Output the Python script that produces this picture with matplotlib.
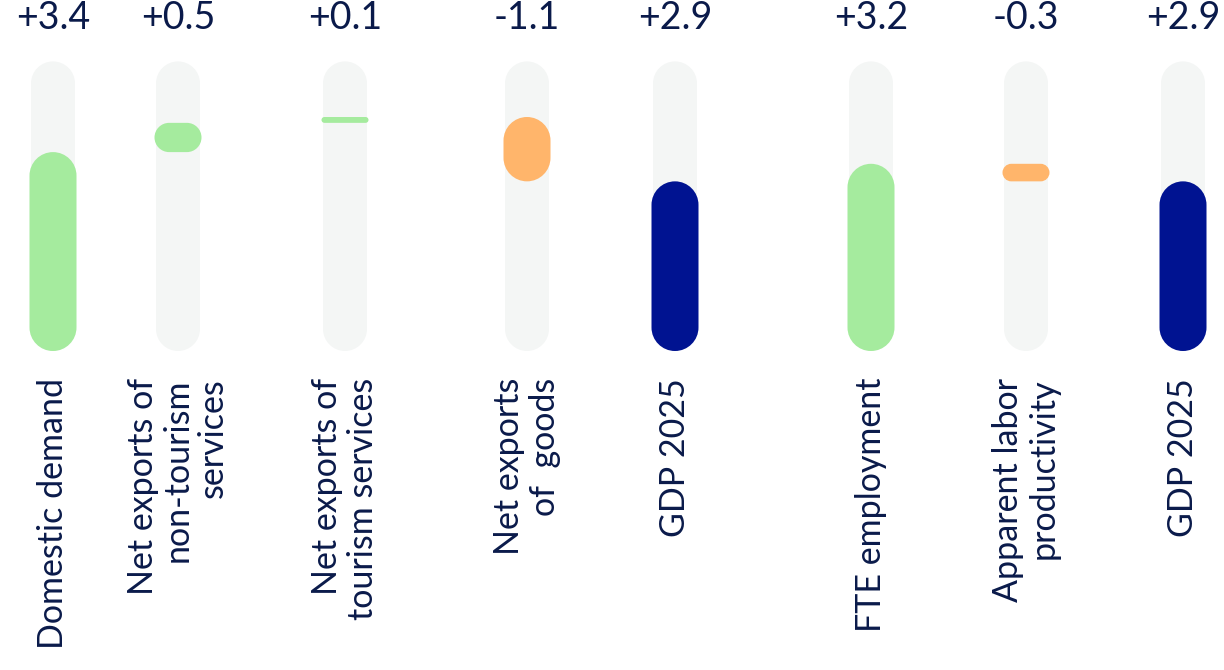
import matplotlib.pyplot as plt
from matplotlib.path import Path
from matplotlib.patches import PathPatch

plt.rcParams['font.family'] = ['Lato', 'DejaVu Sans']

# data
categories = ["Domestic demand", "Net exports of\nnon-tourism\nservices",
              "Net exports of\ntourism services", "Net exports\nof  goods",
              "GDP 2025", "FTE employment", "Apparent labor\nproductivity",
              "GDP 2025"]
changes = [3.4, 0.5, 0.1, -1.1, 2.9, 3.2, -0.3, 2.9]
is_total = [False, False, False, False, True, False, False, True]
value_labels = ["+3.4", "+0.5", "+0.1", "-1.1", "+2.9", "+3.2", "-0.3", "+2.9"]

# layout / style
x_pos = [53, 178, 345, 527, 675, 871, 1026, 1183]
PX = 58.5          # pixels per unit
ZERO = 351         # pixel row of the zero line (from top)
TRACK_MAX = 4.95
TRACK_W = 44
BAR_W = 47
GREEN, ORANGE, NAVY = '#a5eb9e', '#ffb56b', '#001391'
TRACK = '#f4f6f5'
TEXT = '#0a1a4a'


def pill(ax, xc, ya, yb, w, color):
    y0, y1 = min(ya, yb), max(ya, yb)
    x0, x1 = xc - w / 2, xc + w / 2
    r = min(w / 2, (y1 - y0) * PX / 2)
    rx, ry = r, r / PX
    kx, ky = 0.5523 * rx, 0.5523 * ry
    verts = [
        (x0 + rx, y0), (x1 - rx, y0),
        (x1 - rx + kx, y0), (x1, y0 + ry - ky), (x1, y0 + ry),
        (x1, y1 - ry),
        (x1, y1 - ry + ky), (x1 - rx + kx, y1), (x1 - rx, y1),
        (x0 + rx, y1),
        (x0 + rx - kx, y1), (x0, y1 - ry + ky), (x0, y1 - ry),
        (x0, y0 + ry),
        (x0, y0 + ry - ky), (x0 + rx - kx, y0), (x0 + rx, y0),
        (x0 + rx, y0),
    ]
    C = Path.CURVE4
    codes = ([Path.MOVETO, Path.LINETO, C, C, C, Path.LINETO, C, C, C,
              Path.LINETO, C, C, C, Path.LINETO, C, C, C, Path.CLOSEPOLY])
    ax.add_patch(PathPatch(Path(verts, codes), facecolor=color,
                           edgecolor='none'))


fig = plt.figure(figsize=(12.24, 6.7), dpi=100)
ax = fig.add_axes([0, 0, 1, 1])
ax.set_xlim(0, 1224)
ax.set_ylim(-(670 - ZERO) / PX, ZERO / PX)
ax.axis('off')

running = 0.0
for x, cat, ch, tot, lab in zip(x_pos, categories, changes, is_total, value_labels):
    # background track
    pill(ax, x, 0, TRACK_MAX, TRACK_W, TRACK)
    if tot:
        start, end, color = 0, ch, NAVY
        running = 0.0
    else:
        start, end = running, running + ch
        color = GREEN if ch > 0 else ORANGE
        running = end
    pill(ax, x, start, end, BAR_W, color)

    ax.annotate(lab, xy=(x, 1), xycoords=('data', 'axes fraction'),
                xytext=(0, -29), textcoords='offset pixels',
                ha='center', va='baseline', fontsize=27, color=TEXT)
    ax.annotate(cat, xy=(x, 0), xycoords='data',
                xytext=(0, -(378 - ZERO)), textcoords='offset pixels',
                rotation=90, ha='center', va='top', multialignment='right',
                fontsize=24.5, color=TEXT, linespacing=1.12)

fig.savefig('out.png', dpi=100)
